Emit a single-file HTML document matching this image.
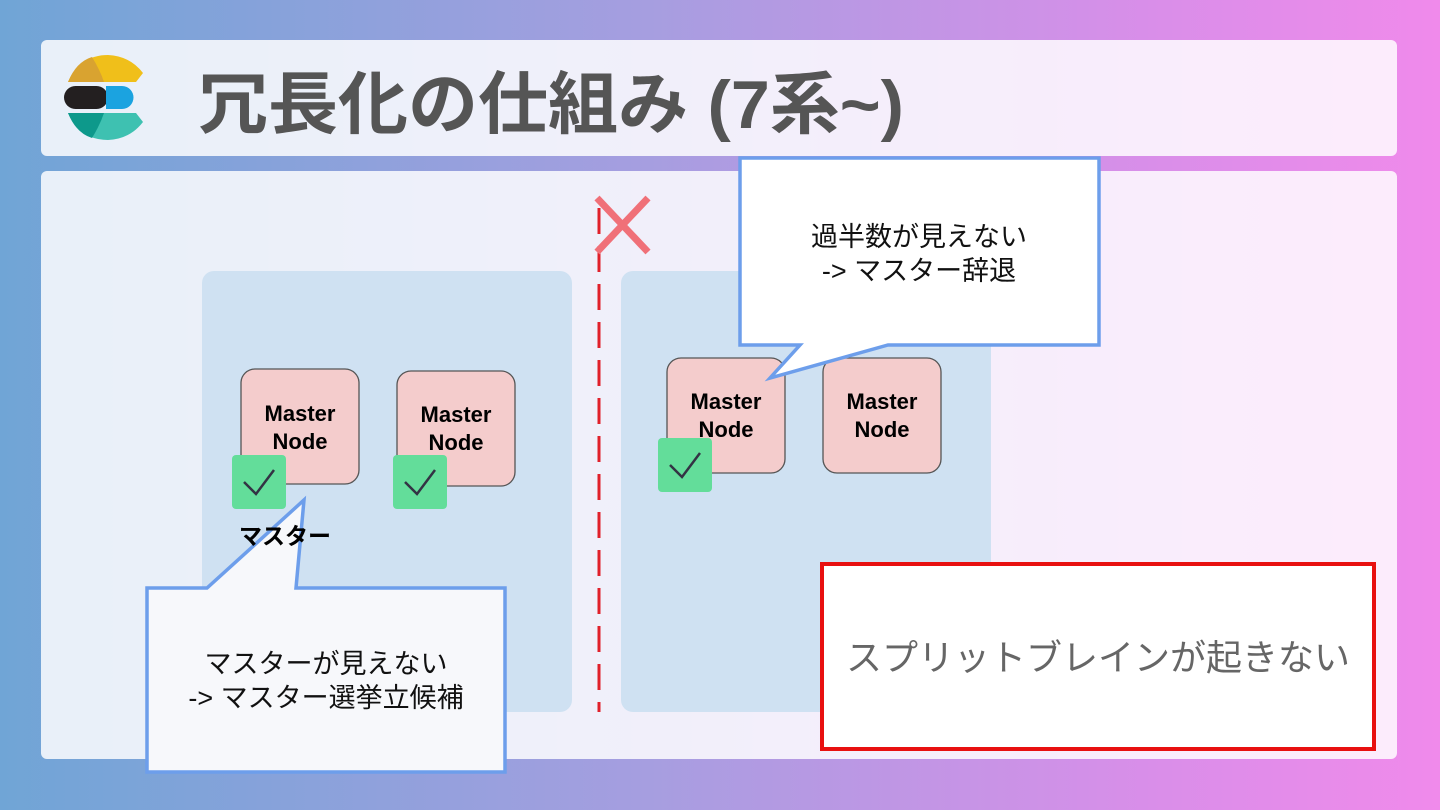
<!DOCTYPE html>
<html><head><meta charset="utf-8"><style>
body{margin:0;width:1440px;height:810px;overflow:hidden;background:linear-gradient(90deg,#70a5d6 0%,#a69ee0 45%,#d98ee9 80%,#f08aeb 100%);font-family:"Liberation Sans","Noto Sans CJK JP",sans-serif;}
</style></head><body>
<svg width="1440" height="810" style="position:absolute;left:0;top:0" font-family="Liberation Sans, Noto Sans CJK JP, sans-serif">
<rect x="41" y="40" width="1356" height="116" rx="6" fill="#fff" fill-opacity="0.84"/>
<rect x="41" y="171" width="1356" height="588" rx="6" fill="#fff" fill-opacity="0.84"/>
<!-- logo -->
<path d="M68 82 Q80 55 108 55 Q130 56 143 73 L136 82 Z" fill="#f0bf1a"/>
<path d="M68 82 Q76 62 92 57 Q100 70 104 82 Z" fill="#d9a330"/>
<rect x="64" y="86" width="44" height="23" rx="11.5" fill="#231f20"/>
<path d="M106 86 L122 86 A11.5 11.5 0 0 1 122 109 L106 109 Z" fill="#1ba3e0"/>
<path d="M68 113 Q80 140 108 140 Q130 139 143 122 L136 113 Z" fill="#3ec1b1"/>
<path d="M68 113 Q76 133 92 138 Q100 125 104 113 Z" fill="#0d998b"/>
<text x="198" y="128" font-size="68" font-weight="bold" fill="#555" textLength="706" lengthAdjust="spacingAndGlyphs">冗長化の仕組み (7系~)</text>
<!-- groups -->
<rect x="202" y="271" width="370" height="441" rx="12" fill="#cfe1f2"/>
<rect x="621" y="271" width="370" height="441" rx="12" fill="#cfe1f2"/>
<line x1="599" y1="208" x2="599" y2="712" stroke="#e0202a" stroke-width="3" stroke-dasharray="26,12"/>
<path d="M597 198 L648 252 M648 198 L597 252" stroke="#f07078" stroke-width="7"/>
<!-- nodes -->
<g font-size="22" font-weight="bold" text-anchor="middle" fill="#000">
<rect x="241" y="369" width="118" height="115" rx="14" fill="#f4cccc" stroke="#555" stroke-width="1.3"/>
<text x="300" y="421">Master</text><text x="300" y="449">Node</text>
<rect x="397" y="371" width="118" height="115" rx="14" fill="#f4cccc" stroke="#555" stroke-width="1.3"/>
<text x="456" y="422">Master</text><text x="456" y="450">Node</text>
<rect x="667" y="358" width="118" height="115" rx="14" fill="#f4cccc" stroke="#555" stroke-width="1.3"/>
<text x="726" y="409">Master</text><text x="726" y="437">Node</text>
<rect x="823" y="358" width="118" height="115" rx="14" fill="#f4cccc" stroke="#555" stroke-width="1.3"/>
<text x="882" y="409">Master</text><text x="882" y="437">Node</text>
</g>
<g fill="#63dd9a" stroke="#334" stroke-width="2.5">
<rect x="232" y="455" width="54" height="54" rx="4" stroke="none"/>
<path d="M244 482 L256 494 L274 470" fill="none"/>
<rect x="393" y="455" width="54" height="54" rx="4" stroke="none"/>
<path d="M405 482 L417 494 L435 470" fill="none"/>
<rect x="658" y="438" width="54" height="54" rx="4" stroke="none"/>
<path d="M670 465 L682 477 L700 453" fill="none"/>
</g>
<!-- callout 1 -->
<path d="M147 588 L207 588 L304 500 L296 588 L505 588 L505 772 L147 772 Z" fill="#f7f8fb" stroke="#6d9eeb" stroke-width="3.5"/>
<text x="285" y="544" font-size="23" font-weight="bold" text-anchor="middle" fill="#000">マスター</text>
<text x="326" y="673" font-size="27" text-anchor="middle" fill="#111">マスターが見えない</text>
<text x="326" y="707" font-size="27" text-anchor="middle" fill="#111">-&gt; マスター選挙立候補</text>
<!-- callout 2 -->
<path d="M740 158 L1099 158 L1099 345 L888 345 L770 378 L800 345 L740 345 Z" fill="#fff" stroke="#6d9eeb" stroke-width="3.5"/>
<text x="919" y="246" font-size="27" text-anchor="middle" fill="#111">過半数が見えない</text>
<text x="919" y="280" font-size="27" text-anchor="middle" fill="#111">-&gt; マスター辞退</text>
<!-- red box -->
<rect x="822" y="564" width="552" height="185" fill="#fff" stroke="#e81010" stroke-width="4"/>
<text x="1098" y="670" font-size="36" text-anchor="middle" fill="#666">スプリットブレインが起きない</text>
</svg>
</body></html>
